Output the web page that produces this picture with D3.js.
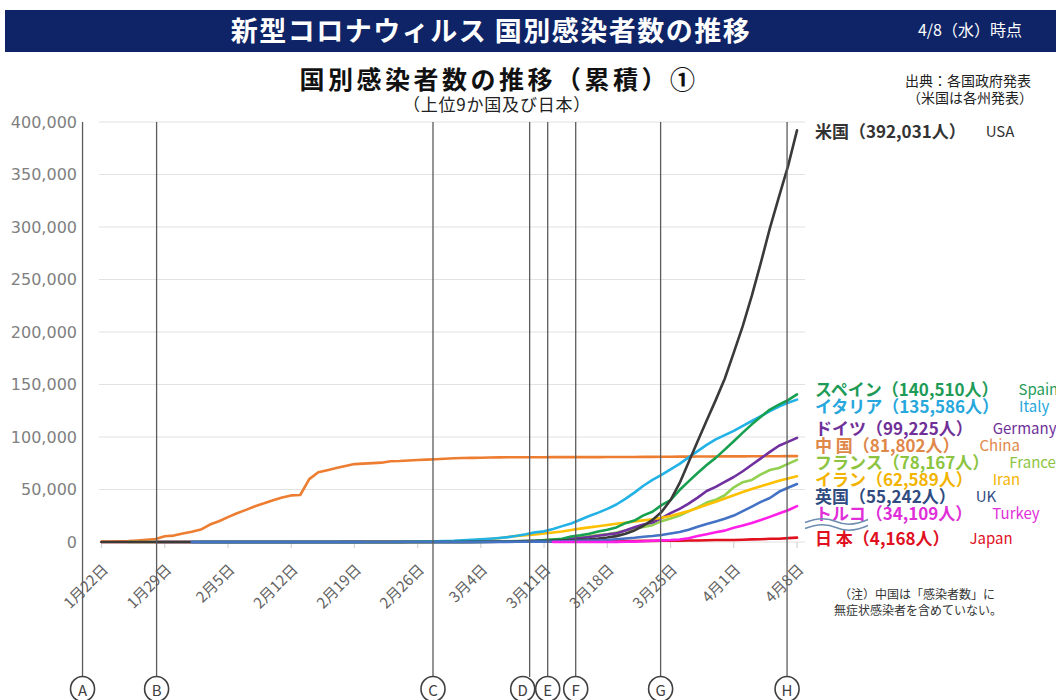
<!DOCTYPE html>
<html>
<head>
<meta charset="utf-8">
<script src="https://cdn.jsdelivr.net/npm/d3@7"></script>
<style>
  body { margin: 0; background: #fff; }
  text { font-family: "Noto Sans CJK JP", "Noto Sans", sans-serif; }
</style>
</head>
<body>
<div id="chart"></div>
<script>
// ---- data ----
const dates = d3.timeDay.range(new Date(2020, 0, 22), new Date(2020, 3, 9)); // 1/22 .. 4/8
const yTicks = [0, 50000, 100000, 150000, 200000, 250000, 300000, 350000, 400000];

const usa = [1, 1, 1, 2, 2, 5, 5, 5, 5, 6,
  7, 8, 8, 11, 11, 11, 12, 12, 12, 12,
  12, 13, 13, 14, 14, 14, 14, 14, 14, 14,
  14, 16, 16, 16, 16, 16, 16, 17, 25,
  45, 65, 80, 100, 130, 170, 240, 330, 450, 600,
  800, 1050, 1350, 1700, 2100, 2600, 3300, 4300, 5600, 7800,
  11000, 15500, 21000, 28500, 40000, 56000, 76000, 96000, 115700, 135100,
  155500, 180300, 205800, 234600, 266000, 298900, 328600, 357800, 392031];
const spain = [1, 1, 1, 1, 1, 1, 1, 1,
  2, 2, 2, 2, 2, 2, 2, 2, 2, 2, 2, 2, 2, 2, 2, 2,
  6, 13, 15, 32,
  45, 84, 120, 165, 222, 259, 400, 500, 673, 1073,
  1695, 2277, 3004, 5232, 6391, 7798, 9942, 11748, 13910, 17963,
  20410, 25374, 28768, 35136, 39885, 49515, 57786, 65719, 73235, 80110,
  87956, 95923, 104118, 112065, 119199, 126168, 130759, 135032, 140510];
const italy = [2, 2, 2, 2, 2, 2,
  3, 3, 3, 3, 3, 3, 3, 3, 3, 3, 3, 3, 3, 3, 3,
  20, 62, 155, 229, 322, 453, 655, 888,
  1128, 1694, 2036, 2502, 3089, 3858, 4636, 5883, 7375, 9172,
  10149, 12462, 15113, 17660, 21157, 24747, 27980, 31506, 35713, 41035,
  47021, 53578, 59138, 63927, 69176, 74386, 80589, 86498, 92472, 97689,
  101739, 105792, 110574, 115242, 119827, 124632, 128948, 132547, 135586];
const germany = [1, 4, 4, 5,
  7, 8, 10, 12, 12, 12, 13, 13, 14, 14,
  16, 16, 16, 16, 16, 16, 16, 16, 16, 16,
  16, 16, 16, 16, 16, 18, 21, 26, 53,
  66, 117, 150, 188, 240, 349, 534, 684, 847, 1112,
  1296, 1567, 2369, 3062, 3795, 4838, 6012, 7156, 8198, 10999,
  13957, 16662, 18610, 22672, 27436, 31554, 36508, 42288, 48582, 52547,
  57298, 61913, 67366, 73522, 79696, 85778, 91714, 95391, 99225];
const china = [548, 548, 643, 920, 1406, 2075, 2877, 5509, 6087, 8141,
  9802, 11891, 16630, 19716, 23707, 27440, 30587, 34110, 36814, 39829,
  42354, 44386, 44759, 59895, 66358, 68413, 70513, 72434, 74211, 74619,
  75077, 75550, 76936, 77150, 77658, 78064, 78497, 78824, 79251,
  79824, 80026, 80151, 80270, 80409, 80552, 80651, 80695, 80735, 80754,
  80778, 80793, 80813, 80824, 80844, 80860, 80881, 80894, 80928, 80967,
  81008, 81054, 81093, 81171, 81218, 81285, 81340, 81394, 81439, 81470,
  81518, 81554, 81589, 81620, 81639, 81669, 81708, 81740, 81802];
const france = [3, 3, 3, 4, 5, 5, 5,
  6, 6, 6, 6, 6, 6, 6, 6, 11, 11,
  12, 12, 12, 12, 12, 12, 12, 12, 12, 12,
  12, 12, 12, 12, 12, 14, 18, 38, 57,
  100, 130, 191, 204, 288, 380, 656, 957, 1134, 1217,
  1792, 2289, 2876, 3672, 4480, 5423, 6650, 7652, 9043, 10871,
  12612, 14282, 16018, 19856, 22304, 25233, 29155, 32964, 37575, 40174,
  44550, 52128, 56989, 59105, 64338, 68605, 70478, 74390, 78167];
const iran = [2, 5, 18, 28, 43, 61, 95, 139, 245, 388,
  593, 978, 1501, 2336, 2922, 3513, 4747, 5823, 6566, 7161,
  8042, 9000, 10075, 11364, 12729, 13938, 14991, 16169, 17361, 18407,
  19644, 20610, 21638, 23049, 24811, 27017, 29406, 32332, 35408, 38309,
  41495, 44605, 47593, 50468, 53183, 55743, 58226, 60500, 62589];
const uk = [2, 2, 2, 2, 2, 2, 3, 3, 3, 8,
  8, 9, 9, 9, 9, 9, 9, 9, 9, 9,
  9, 9, 9, 9, 13, 13, 13, 15, 20,
  23, 36, 40, 51, 85, 115, 163, 206, 273, 321,
  382, 456, 590, 798, 1140, 1391, 1543, 1950, 2626, 3269,
  3983, 5018, 5683, 6650, 8077, 9529, 11658, 14543, 17089, 19522,
  22141, 25150, 29474, 33718, 38168, 41903, 47806, 51608, 55242];
const turkey = [1, 1, 5, 5, 6, 18, 47, 98, 192,
  359, 670, 1236, 1529, 1872, 2433, 3629, 5698, 7402, 9217,
  10827, 13531, 15679, 18135, 20921, 23934, 27069, 30217, 34109];
const japan = [2, 2, 2, 2, 2, 4, 4, 7, 7, 11,
  15, 20, 20, 20, 22, 22, 25, 25, 26, 26,
  26, 28, 28, 29, 43, 59, 66, 74, 84, 94,
  105, 122, 147, 159, 170, 189, 214, 228, 241,
  256, 274, 293, 331, 360, 420, 461, 502, 511, 581,
  639, 639, 701, 773, 839, 839, 878, 889, 924, 963,
  1007, 1086, 1086, 1128, 1193, 1307, 1387, 1468, 1693, 1866,
  1866, 1953, 2178, 2495, 2617, 3139, 3139, 3654, 4168];

// label order (top to bottom at the right edge)
const names   = ["USA", "Spain", "Italy", "Germany", "China", "France", "Iran", "UK", "Turkey", "Japan"];
const namesJa = ["米国", "スペイン", "イタリア", "ドイツ", "中 国", "フランス", "イラン", "英国", "トルコ", "日 本"];
const firstDates = ["2020-01-22", "2020-02-02", "2020-02-01", "2020-01-28", "2020-01-22",
                    "2020-01-25", "2020-02-20", "2020-02-01", "2020-03-12", "2020-01-22"];
const seriesValues = [usa, spain, italy, germany, china, france, iran, uk, turkey, japan];
const lineColors  = ["#3a3a3a", "#16a04f", "#22b2e6", "#7030a0", "#ed7d31", "#92d050", "#ffc000", "#4472c4", "#ff1fe6", "#e0101e"];
const labelColors = ["#333333", "#1e9b57", "#27a7dc", "#6f3099", "#e0874a", "#8cc43f", "#f2b400", "#2f4b80", "#e02fd8", "#e0101e"];
const drawOrder = ["Japan", "China", "France", "Germany", "Iran", "Italy", "Spain", "USA", "UK", "Turkey"];

// markers A..H (days after 1/22)
const eventLetters = ["A", "B", "C", "D", "E", "F", "G", "H"];
const eventDays = [-2.1, 6.1, 36.7, 47.4, 49.4, 52.5, 61.9, 75.9];

// ---- layout ----
const width = 1056, height = 700;
const svg = d3.select("#chart").append("svg")
  .attr("width", width).attr("height", height);

const x = d3.scaleLinear().domain([0, dates.length - 1]).range([101.5, 797]);
const y = d3.scaleLinear().domain([0, 400000]).range([542, 122]);
const dayIndex = d => Math.round((d - dates[0]) / 864e5);
const fmtDate = d3.timeFormat("%-m月%-d日");

// header band
svg.append("rect").attr("x", 5).attr("y", 10).attr("width", width - 5).attr("height", 42)
  .attr("fill", "#0e2466");
svg.append("text").attr("x", 491).attr("y", 29)
  .attr("text-anchor", "middle").attr("dominant-baseline", "central")
  .attr("fill", "#fff").attr("font-size", 27).attr("font-weight", 700)
  .attr("letter-spacing", 1.5)
  .text("新型コロナウィルス 国別感染者数の推移");
svg.append("text").attr("x", 970).attr("y", 29)
  .attr("text-anchor", "middle").attr("dominant-baseline", "central")
  .attr("fill", "#fff").attr("font-size", 16)
  .text("4/8（水）時点");

// titles
svg.append("text").attr("x", 499).attr("y", 78)
  .attr("text-anchor", "middle").attr("dominant-baseline", "central")
  .attr("fill", "#111").attr("font-size", 25).attr("font-weight", 700)
  .attr("letter-spacing", 3.5)
  .text("国別感染者数の推移（累積）①");
svg.append("text").attr("x", 497).attr("y", 103)
  .attr("text-anchor", "middle").attr("dominant-baseline", "central")
  .attr("fill", "#222").attr("font-size", 17).attr("letter-spacing", 0.8)
  .text("（上位9か国及び日本）");
svg.append("text").attr("x", 968).attr("y", 80)
  .attr("text-anchor", "middle").attr("dominant-baseline", "central")
  .attr("fill", "#222").attr("font-size", 14)
  .text("出典：各国政府発表");
svg.append("text").attr("x", 970).attr("y", 97)
  .attr("text-anchor", "middle").attr("dominant-baseline", "central")
  .attr("fill", "#222").attr("font-size", 14)
  .text("（米国は各州発表）");

// grid + y labels
svg.append("g").selectAll("line").data(yTicks).join("line")
  .attr("x1", 99).attr("x2", 805)
  .attr("y1", d => y(d)).attr("y2", d => y(d))
  .attr("stroke", "#e2e2e2").attr("stroke-width", 1.2);
svg.append("g").selectAll("text").data(yTicks).join("text")
  .attr("x", 77).attr("y", d => y(d))
  .attr("text-anchor", "end").attr("dominant-baseline", "central")
  .style("font-family", "'DejaVu Sans', Verdana, sans-serif")
  .attr("font-size", 16).attr("fill", "#7f7f7f")
  .text(d3.format(","));

// x ticks + labels (weekly)
const weekly = dates.map((d, i) => i).filter(i => i % 7 === 0);
svg.append("g").selectAll("line").data(weekly).join("line")
  .attr("x1", d => x(d)).attr("x2", d => x(d))
  .attr("y1", 542).attr("y2", 548)
  .attr("stroke", "#d4d4d4").attr("stroke-width", 1.2);
svg.append("g").selectAll("text").data(weekly).join("text")
  .attr("transform", d => `translate(${x(d) + 3},${566}) rotate(-45)`)
  .attr("text-anchor", "end").attr("dominant-baseline", "central")
  .attr("font-size", 15).attr("fill", "#626262")
  .text(d => fmtDate(dates[d]));

// series
const series = names.map((name, i) => {
  const start = dayIndex(d3.timeParse("%Y-%m-%d")(firstDates[i]));
  return {
    name, ja: namesJa[i], color: lineColors[i], labelColor: labelColors[i],
    points: seriesValues[i].map((v, k) => ({ i: start + k, v }))
  };
});
const line = d3.line().x(d => x(d.i)).y(d => y(d.v));

svg.append("g").selectAll("path")
  .data(drawOrder.map(n => series.find(s => s.name === n)))
  .join("path")
  .attr("d", d => line(d.points))
  .attr("fill", "none")
  .attr("stroke", d => d.color)
  .attr("stroke-width", 2.6)
  .attr("stroke-linejoin", "round")
  .attr("stroke-linecap", "round");

// marker lines A..H with circled letters
const markers = eventLetters.map((l, i) => ({ l, x: x(eventDays[i]) }));
for (let i = markers.length - 1; i >= 0; i--) {
  const next = markers[i + 1];
  markers[i].cx = next ? Math.min(markers[i].x, next.cx - 25) : markers[i].x;
}
const mk = svg.append("g");
mk.selectAll("line").data(markers).join("line")
  .attr("x1", d => d.x).attr("x2", d => d.x)
  .attr("y1", 122).attr("y2", 677)
  .attr("stroke", "#5c5c5c").attr("stroke-width", 1.3);
mk.selectAll("ellipse").data(markers).join("ellipse")
  .attr("cx", d => d.cx).attr("cy", 689).attr("rx", 12).attr("ry", 12.5)
  .attr("fill", "#fff").attr("stroke", "#404040").attr("stroke-width", 1.6);
mk.selectAll("text").data(markers).join("text")
  .attr("x", d => d.cx).attr("y", 689)
  .attr("text-anchor", "middle").attr("dominant-baseline", "central")
  .attr("font-size", 15).attr("fill", "#404040")
  .text(d => d.l);

// right labels, spread apart so they do not overlap
const gap = 17;
const items = series.map(s => ({ s, target: y(s.points[s.points.length - 1].v) }))
  .sort((a, b) => a.target - b.target);
let groups = items.map(d => ({ items: [d], y: d.target }));
let merged = true;
while (merged) {
  merged = false;
  for (let i = 1; i < groups.length; i++) {
    const a = groups[i - 1], b = groups[i];
    const aBottom = a.y + (a.items.length - 1) * gap / 2;
    const bTop = b.y - (b.items.length - 1) * gap / 2;
    if (bTop - aBottom < gap) {
      const its = a.items.concat(b.items);
      groups.splice(i - 1, 2, { items: its, y: d3.mean(its, d => d.target) });
      merged = true;
      break;
    }
  }
}
groups.forEach(g => g.items.forEach((d, k) => {
  d.ly = g.y + (k - (g.items.length - 1) / 2) * gap;
}));

const labelX = x(dates.length - 1) + 18;
const lab = svg.append("g").selectAll("g").data(items).join("g")
  .attr("transform", d => `translate(${labelX},${d.ly})`);
lab.append("text")
  .attr("class", "ja")
  .attr("dominant-baseline", "central")
  .attr("font-size", 17).attr("font-weight", 700)
  .attr("fill", d => d.s.labelColor)
  .text(d => `${d.s.ja}（${d3.format(",")(d.s.points[d.s.points.length - 1].v)}人）`);
lab.append("text")
  .attr("x", function () {
    return this.parentNode.querySelector(".ja").getComputedTextLength() + 20;
  })
  .attr("dominant-baseline", "central")
  .attr("font-size", 15)
  .attr("fill", d => d.s.labelColor)
  .text(d => d.s.name);

// wavy break mark under the Turkey label
const tk = items.find(d => d.s.name === "Turkey");
[9, 15].forEach(off => {
  const p = d3.path();
  const y0 = tk.ly + off, x0 = labelX - 10;
  p.moveTo(x0, y0 + 1);
  p.bezierCurveTo(x0 + 12, y0 - 4, x0 + 22, y0 - 4, x0 + 31, y0);
  p.bezierCurveTo(x0 + 40, y0 + 4, x0 + 52, y0 + 3, x0 + 63, y0 - 2);
  svg.append("path").attr("d", p.toString())
    .attr("fill", "none").attr("stroke", "#6d8db0").attr("stroke-width", 1.5);
});

// note
svg.append("text").attr("x", 917).attr("y", 593)
  .attr("text-anchor", "middle").attr("dominant-baseline", "central")
  .attr("font-size", 12).attr("fill", "#333")
  .text("（注）中国は「感染者数」に");
svg.append("text").attr("x", 918).attr("y", 609)
  .attr("text-anchor", "middle").attr("dominant-baseline", "central")
  .attr("font-size", 12).attr("fill", "#333")
  .text("無症状感染者を含めていない。");
</script>
</body>
</html>
